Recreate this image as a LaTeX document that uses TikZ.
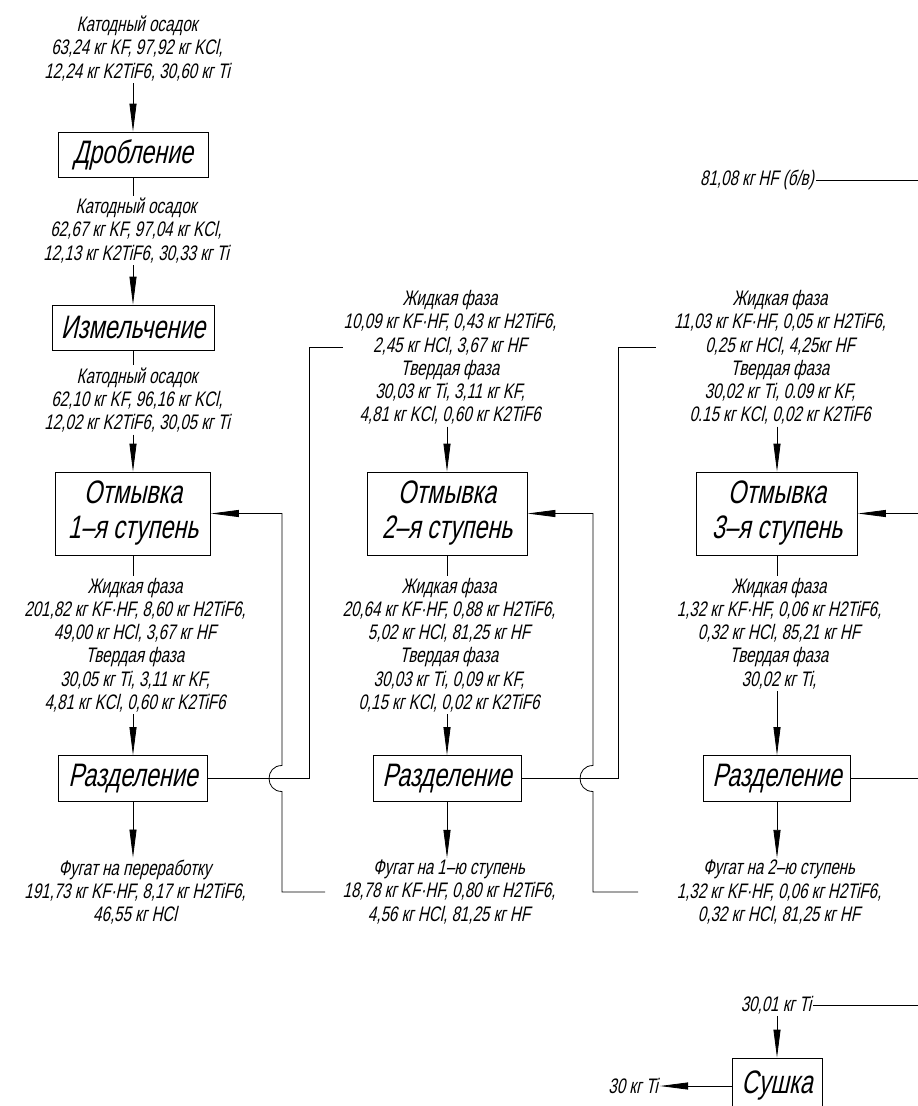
\documentclass[tikz,border=0pt]{standalone}
\usepackage{fontspec}
\setmainfont{Liberation Sans}[FakeSlant=0.22,FakeStretch=0.72]
\usepackage{tikz}
\usetikzlibrary{arrows.meta}

\begin{document}
\begin{tikzpicture}[x=1pt,y=-1pt,
		stage/.style={draw,line width=.8pt,inner sep=0pt,align=center,font=\fontsize{32.5}{35}\selectfont},
		flow/.style={inner sep=2pt,align=center,font=\fontsize{21}{23.2}\selectfont},
		feed/.style={line width=.8pt,-{Triangle[length=28pt,width=7pt]}},
		link/.style={line width=.8pt}]
	\useasboundingbox (0,0) rectangle (918,1106);

	% first column
	\node[flow] (cathode) at (137,48.5) {Катодный осадок\\63,24 кг KF, 97,92 кг KCl,\\12,24 кг K2TiF6, 30,60 кг Ti};
	\node[stage,minimum width=150pt,minimum height=45pt] (crush) at (133,154.5) {Дробление};
	\node[flow] (crushed) at (136,230.5) {Катодный осадок\\62,67 кг KF, 97,04 кг KCl,\\12,13 кг K2TiF6, 30,33 кг Ti};
	\node[stage,minimum width=162pt,minimum height=45pt] (grind) at (133,327.5) {Измельчение};
	\node[flow] (ground) at (137,400) {Катодный осадок\\62,10 кг KF, 96,16 кг KCl,\\12,02 кг K2TiF6, 30,05 кг Ti};
	\node[stage,minimum width=155pt,minimum height=83pt] (washA) at (133,513.5) {Отмывка\\1–я ступень};
	\node[flow] (washedA) at (135,645) {Жидкая фаза\\201,82 кг KF·HF, 8,60 кг H2TiF6,\\49,00 кг HCl, 3,67 кг HF\\Твердая фаза\\30,05 кг Ti, 3,11 кг KF,\\4,81 кг KCl, 0,60 кг K2TiF6};
	\node[stage,minimum width=149pt,minimum height=46pt] (sepA) at (133,778.5) {Разделение};
	\node[flow] (filtA) at (135,892) {Фугат на переработку\\191,73 кг KF·HF, 8,17 кг H2TiF6,\\46,55 кг HCl};

	\draw[feed] (crush.north |- cathode.south) -- (crush);
	\draw[link] (crush) -- (crush.south |- crushed.north);
	\draw[feed] (grind.north |- crushed.south) -- (grind);
	\draw[link] (grind) -- (grind.south |- ground.north);
	\draw[feed] (washA.north |- ground.south) -- (washA);
	\draw[link] (washA) -- (washA.south |- washedA.north);
	\draw[feed] (sepA.north |- washedA.south) -- (sepA);
	\draw[feed] (sepA) -- (sepA.south |- filtA.north);

	% second column
	\node[flow] (inB) at (450,357.5) {Жидкая фаза\\10,09 кг KF·HF, 0,43 кг H2TiF6,\\2,45 кг HCl, 3,67 кг HF\\Твердая фаза\\30,03 кг Ti, 3,11 кг KF,\\4,81 кг KCl, 0,60 кг K2TiF6};
	\node[stage,minimum width=160pt,minimum height=83pt] (washB) at (447,513.5) {Отмывка\\2–я ступень};
	\node[flow] (washedB) at (449,645) {Жидкая фаза\\20,64 кг KF·HF, 0,88 кг H2TiF6,\\5,02 кг HCl, 81,25 кг HF\\Твердая фаза\\30,03 кг Ti, 0,09 кг KF,\\0,15 кг KCl, 0,02 кг K2TiF6};
	\node[stage,minimum width=148pt,minimum height=46pt] (sepB) at (447,778.5) {Разделение};
	\node[flow] (filtB) at (449,892) {Фугат на 1–ю ступень\\18,78 кг KF·HF, 0,80 кг H2TiF6,\\4,56 кг HCl, 81,25 кг HF};

	\draw[feed] (washB.north |- inB.south) -- (washB);
	\draw[link] (washB) -- (washB.south |- washedB.north);
	\draw[feed] (sepB.north |- washedB.south) -- (sepB);
	\draw[feed] (sepB) -- (sepB.south |- filtB.north);

	% third column
	\node[flow,anchor=east] (acid) at (816,180) {81,08 кг HF (б/в)};
	\node[flow] (inC) at (780,357.5) {Жидкая фаза\\11,03 кг KF·HF, 0,05 кг H2TiF6,\\0,25 кг HCl, 4,25кг HF\\Твердая фаза\\30,02 кг Ti, 0.09 кг KF,\\0.15 кг KCl, 0,02 кг K2TiF6};
	\node[stage,minimum width=161pt,minimum height=83pt] (washC) at (777,513.5) {Отмывка\\3–я ступень};
	\node[flow] (washedC) at (779,633.5) {Жидкая фаза\\1,32 кг KF·HF, 0,06 кг H2TiF6,\\0,32 кг HCl, 85,21 кг HF\\Твердая фаза\\30,02 кг Ti,};
	\node[stage,minimum width=147pt,minimum height=46pt] (sepC) at (777,778.5) {Разделение};
	\node[flow] (filtC) at (779,892) {Фугат на 2–ю ступень\\1,32 кг KF·HF, 0,06 кг H2TiF6,\\0,32 кг HCl, 81,25 кг HF};

	\draw[feed] (washC.north |- inC.south) -- (washC);
	\draw[link] (washC) -- (washC.south |- washedC.north);
	\draw[feed] (sepC.north |- washedC.south) -- (sepC);
	\draw[feed] (sepC) -- (sepC.south |- filtC.north);

	% drying
	\node[flow] (tiwet) at (776,1005) {30,01 кг Ti};
	\node[stage,minimum width=90pt,minimum height=56pt] (dry) at (777,1086) {Сушка};
	\node[flow,anchor=east] (tidry) at (660,1086) {30 кг Ti};
	\draw[feed] (dry.north |- tiwet.south) -- (dry);
	\draw[feed] (dry) -- (tidry);

	% streams between the stages
	\coordinate (toB) at (343,347);
	\coordinate (toC) at (656,347);
	\coordinate (backA) at (325,892);
	\coordinate (backB) at (638,892);
	\draw[link] (sepA) -- (309,778.5) |- (toB);
	\draw[link] (sepB) -- (618,778.5) |- (toC);
	\draw[feed] (backA) -- (282,892) -- (282,791.5) .. controls (264.7,791.5) and (264.7,765.5) .. (282,765.5) -- (282,513.5) -- (washA);
	\draw[feed] (backB) -- (593,892) -- (593,791.5) .. controls (575.7,791.5) and (575.7,765.5) .. (593,765.5) -- (593,513.5) -- (washB);

	% lines leaving the sheet
	\coordinate (edgeHF) at (918,180);
	\coordinate (edgeC) at (918,513.5);
	\coordinate (edgeS) at (918,778.5);
	\coordinate (edgeTi) at (918,1005);
	\draw[link] (acid) -- (edgeHF);
	\draw[feed] (edgeC) -- (washC);
	\draw[link] (sepC) -- (edgeS);
	\draw[link] (tiwet) -- (edgeTi);
\end{tikzpicture}
\end{document}
